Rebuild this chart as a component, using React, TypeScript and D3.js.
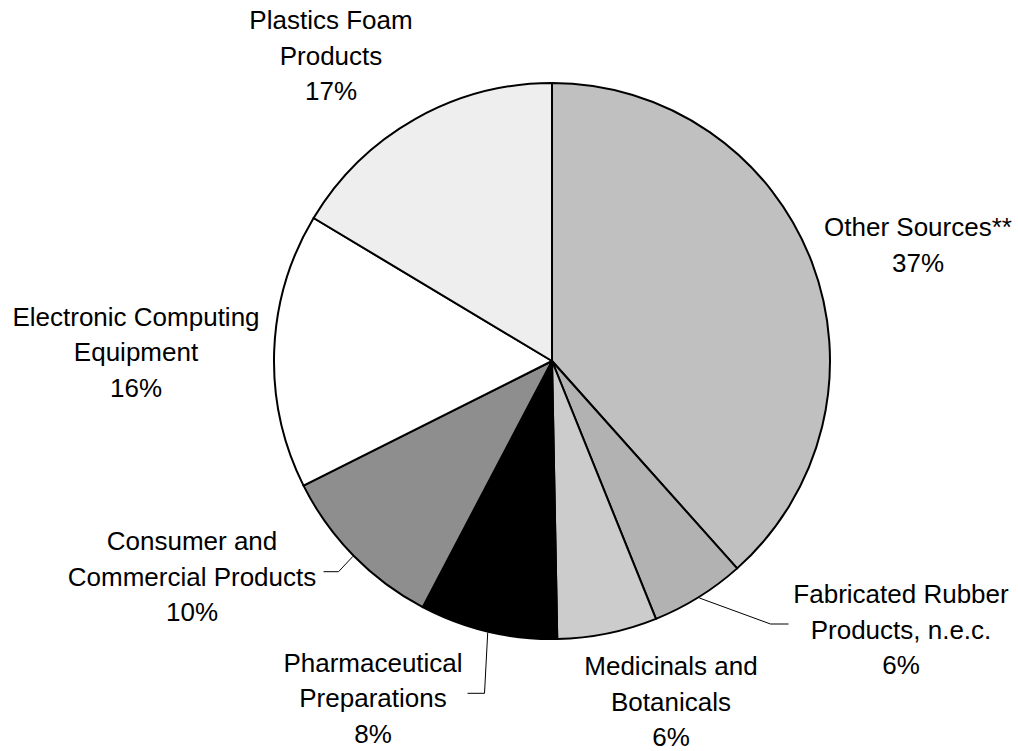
import React from "react";
import * as d3 from "d3";

const categories = [
  "Other Sources**",
  "Fabricated Rubber Products, n.e.c.",
  "Medicinals and Botanicals",
  "Pharmaceutical Preparations",
  "Consumer and Commercial Products",
  "Electronic Computing Equipment",
  "Plastics Foam Products",
];
const values = [38.4, 5.5, 5.8, 8.0, 9.9, 16.0, 16.4];
const percentLabels = ["37%", "6%", "6%", "8%", "10%", "16%", "17%"];
const labelLines = [
  ["Other Sources**"],
  ["Fabricated Rubber", "Products, n.e.c."],
  ["Medicinals and", "Botanicals"],
  ["Pharmaceutical", "Preparations"],
  ["Consumer and", "Commercial Products"],
  ["Electronic Computing", "Equipment"],
  ["Plastics Foam", "Products"],
];
const colors = ["#c0c0c0", "#b2b2b2", "#cccccc", "#000000", "#8e8e8e", "#ffffff", "#eeeeee"];

// layout: label center x, first baseline y
const labelPos: { x: number; y: number }[] = [
  { x: 918, y: 236.2 },
  { x: 901, y: 603.3 },
  { x: 671, y: 675 },
  { x: 373, y: 671.7 },
  { x: 192, y: 550 },
  { x: 136, y: 325.7 },
  { x: 331, y: 29.3 },
];
// leader lines: elbow and end (null = none)
const leaders: ({ elbow: [number, number]; end: [number, number] } | null)[] = [
  null,
  { elbow: [770.5, 624], end: [788.5, 624] },
  null,
  { elbow: [484.5, 693.3], end: [467.5, 693.3] },
  { elbow: [338.5, 571.7], end: [323.5, 571.7] },
  null,
  null,
];

const cx = 552;
const cy = 361;
const R = 278;
const lineH = 35.5;

export default function App() {
  const pie = d3
    .pie<number>()
    .sort(null)
    .value((d) => d)
    .startAngle(0)
    .endAngle(2 * Math.PI);
  const arcs = pie(values);
  const arc = d3.arc<d3.PieArcDatum<number>>().innerRadius(0).outerRadius(R);

  return (
    <svg
      width={1018}
      height={751}
      style={{ position: "absolute", left: 0, top: 0, background: "#fff" }}
      fontFamily="'Liberation Sans', Arial, sans-serif"
    >
      <g transform={`translate(${cx},${cy})`}>
        {arcs.map((a, i) => (
          <path
            key={categories[i]}
            d={arc(a) || ""}
            fill={colors[i]}
            stroke="#000"
            strokeWidth={2}
            strokeLinejoin="round"
          />
        ))}
      </g>
      {arcs.map((a, i) => {
        const L = leaders[i];
        if (!L) return null;
        const mid = (a.startAngle + a.endAngle) / 2;
        const sx = cx + Math.sin(mid) * (R + 1);
        const sy = cy - Math.cos(mid) * (R + 1);
        return (
          <polyline
            key={"l" + i}
            points={`${sx},${sy} ${L.elbow[0]},${L.elbow[1]} ${L.end[0]},${L.end[1]}`}
            fill="none"
            stroke="#000"
            strokeWidth={1}
          />
        );
      })}
      {categories.map((c, i) => {
        const lines = [...labelLines[i], percentLabels[i]];
        const p = labelPos[i];
        return (
          <text
            key={"t" + c}
            x={p.x}
            y={p.y}
            textAnchor="middle"
            fontSize={26}
            fill="#000"
          >
            {lines.map((ln, j) => (
              <tspan key={j} x={p.x} y={p.y + j * lineH}>
                {ln}
              </tspan>
            ))}
          </text>
        );
      })}
    </svg>
  );
}
